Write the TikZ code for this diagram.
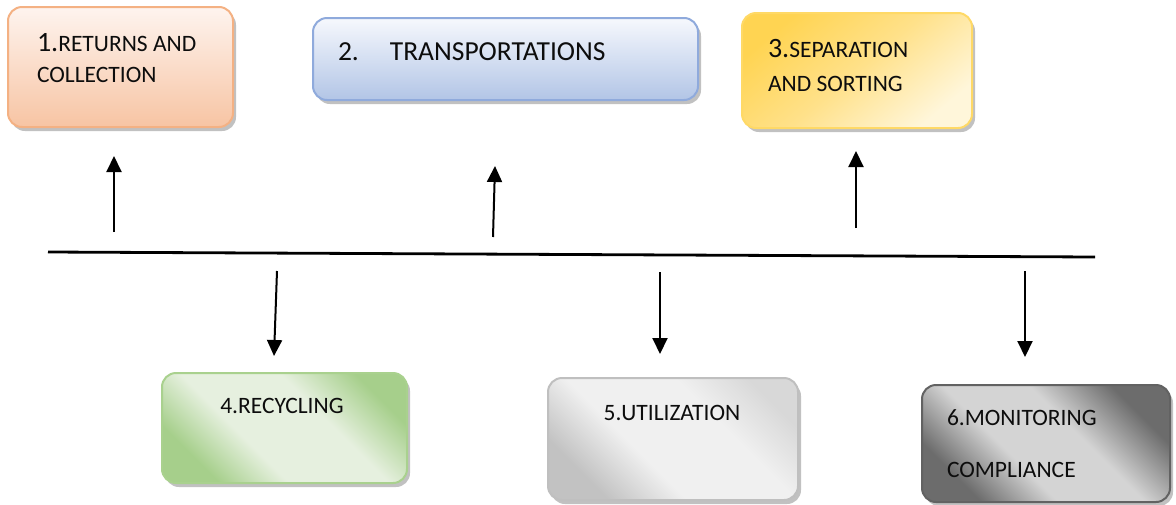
\documentclass[tikz,border=0pt]{standalone}
\usepackage{fontspec}
\setmainfont{Carlito}
\usetikzlibrary{arrows.meta,shadows}
\definecolor{b1line}{HTML}{F4B183}
\definecolor{b1top}{HTML}{FEF4EF}
\definecolor{b1bot}{HTML}{F7C4A3}
\definecolor{b2line}{HTML}{8FAADC}
\definecolor{b2top}{HTML}{F6F8FD}
\definecolor{b2bot}{HTML}{B2C5E6}
\definecolor{b3line}{HTML}{FFD966}
\definecolor{b3top}{HTML}{FFD452}
\definecolor{b3mid}{HTML}{FFE18A}
\definecolor{b3bot}{HTML}{FFF6DA}
\definecolor{b4line}{HTML}{A9D18E}
\definecolor{b4dark}{HTML}{A6CF8B}
\definecolor{b4light}{HTML}{E6F0DF}
\definecolor{b5line}{HTML}{BFBFBF}
\definecolor{b5dark}{HTML}{C2C2C2}
\definecolor{b5light}{HTML}{F0F0F0}
\definecolor{b5right}{HTML}{D8D8D8}
\definecolor{b6line}{HTML}{626262}
\definecolor{b6dark}{HTML}{6C6C6C}
\definecolor{b6light}{HTML}{D4D4D4}
\definecolor{txtcol}{HTML}{0D0D0D}
\pgfdeclarehorizontalshading{shfour}{100bp}{color(0bp)=(b4dark); color(26bp)=(b4dark); color(40bp)=(b4light); color(60bp)=(b4light); color(75bp)=(b4dark); color(100bp)=(b4dark)}
\pgfdeclarehorizontalshading{shfive}{100bp}{color(0bp)=(b5dark); color(26bp)=(b5dark); color(41bp)=(b5light); color(62bp)=(b5light); color(76bp)=(b5right); color(100bp)=(b5right)}
\pgfdeclarehorizontalshading{shsix}{100bp}{color(0bp)=(b6dark); color(26bp)=(b6dark); color(41bp)=(b6light); color(58bp)=(b6light); color(74bp)=(b6dark); color(100bp)=(b6dark)}
\newcommand\mysmall{\fontsize{23.5}{28}\selectfont}
\newcommand\mybig{\fontsize{28}{34}\selectfont}
\newcommand\mymid{\fontsize{27.5}{33}\selectfont}
\tikzset{
  boxbase/.style={line width=2pt, rounded corners=14pt, inner sep=0pt, outer sep=0pt,
    drop shadow={shadow xshift=3pt, shadow yshift=-4pt, opacity=0.35, fill=black!70}},
  txt/.style={inner sep=0pt, outer sep=0pt, text=txtcol, anchor=base west},
  ctxt/.style={inner sep=0pt, outer sep=0pt, text=txtcol, anchor=base},
  arr/.style={line width=2pt, -{Triangle[length=16pt,width=15pt]}},
  mainline/.style={line width=2.8pt}
}
\begin{document}
\begin{tikzpicture}[x=1pt,y=-1pt]
\useasboundingbox (0,0) rectangle (1176,504);
% boxes
\node[boxbase, draw=b1line, top color=b1top, bottom color=b1bot,
  minimum width=225pt, minimum height=120pt] (b1) at (120.5,67) {};
\node[boxbase, draw=b2line, top color=b2top, bottom color=b2bot,
  minimum width=385pt, minimum height=82pt] (b2) at (505.5,59) {};
\node[boxbase, draw=b3line, top color=b3top, bottom color=b3bot, middle color=b3mid, shading angle=40,
  minimum width=230pt, minimum height=115pt] (b3) at (857,70.5) {};
\node[boxbase, draw=b4line, shading=shfour, shading angle=45,
  minimum width=245pt, minimum height=110pt] (b4) at (284.5,428) {};
\node[boxbase, draw=b5line, shading=shfive, shading angle=45,
  minimum width=250pt, minimum height=122pt] (b5) at (673,439) {};
\node[boxbase, draw=b6line, shading=shsix, shading angle=45,
  minimum width=248pt, minimum height=117pt] (b6) at (1046,443.5) {};
% texts
\node[txt] (t1a) at (37,51) {\mybig 1.\mysmall RETURNS AND};
\node[txt] (t1b) at (37,82) {\mysmall COLLECTION};
\node[txt] (t2) at (338,60) {\mymid 2.\hspace{31pt}TRANSPORTATIONS};
\node[txt] (t3a) at (768,57) {\mybig 3.\mysmall SEPARATION};
\node[txt] (t3b) at (768,91) {\mysmall AND SORTING};
\node[ctxt] (t4) at (282,413) {\mysmall 4.RECYCLING};
\node[ctxt] (t5) at (672,420) {\mysmall 5.UTILIZATION};
\node[txt] (t6a) at (947,425) {\mysmall 6.MONITORING};
\node[txt] (t6b) at (947,477) {\mysmall COMPLIANCE};
% main line
\coordinate (l0) at (48,252);
\coordinate (l1) at (1095,257);
\draw[mainline] (l0) -- (l1);
% arrow coordinates
\coordinate (u1s) at (114,232); \coordinate (u1e) at (114,156);
\coordinate (u2s) at (493,237); \coordinate (u2e) at (495,166);
\coordinate (u3s) at (856,228); \coordinate (u3e) at (856,151);
\coordinate (d4s) at (277,271); \coordinate (d4e) at (274,356);
\coordinate (d5s) at (660,272); \coordinate (d5e) at (660,354);
\coordinate (d6s) at (1025,271); \coordinate (d6e) at (1025,357);
\draw[arr] (u1s) -- (u1e);
\draw[arr] (u2s) -- (u2e);
\draw[arr] (u3s) -- (u3e);
\draw[arr] (d4s) -- (d4e);
\draw[arr] (d5s) -- (d5e);
\draw[arr] (d6s) -- (d6e);
\end{tikzpicture}
\end{document}
